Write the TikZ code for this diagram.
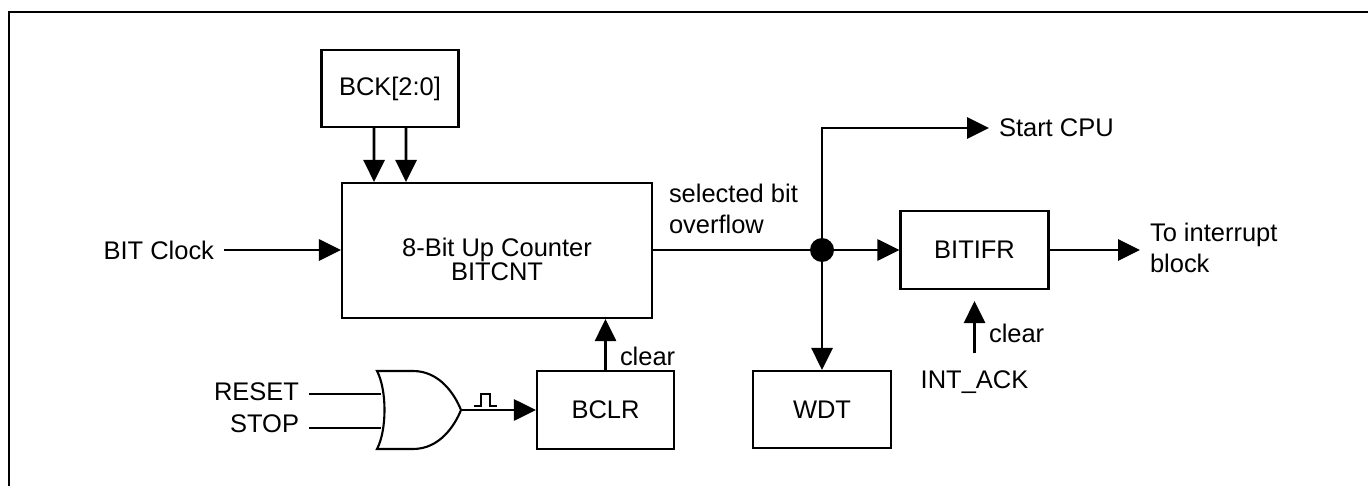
\documentclass[tikz,border=0pt]{standalone}
\usepackage{fontspec}
\setmainfont{Liberation Sans}
\usetikzlibrary{arrows.meta}

\begin{document}
\begin{tikzpicture}[x=0.02cm,y=-0.02cm,>={Triangle[length=0.44cm,width=0.42cm]},
  font=\fontsize{14.5}{18}\selectfont,
  blk/.style={draw,line width=1.2pt,inner sep=0pt},
  sig/.style={inner sep=0pt,outer sep=0pt},
  term/.style={inner sep=0pt,outer sep=0.2cm},
  wire/.style={line width=1.6pt}]
  \useasboundingbox (0,0) rectangle (1368,486);
  \draw[line width=1.2pt] (9,486) -- (9,12) -- (1368,12);

  \node[blk,minimum width=2.74cm,minimum height=1.54cm] (bck) at (390,88.5) {BCK[2:0]};
  \node[blk,minimum width=6.2cm,minimum height=2.7cm] (cnt) at (497,250.5) {};
  \node[sig,align=center,font=\fontsize{14.5}{13.6}\selectfont] (cnttxt) at (497,259.5) {8-Bit Up Counter\\BITCNT};
  \node[blk,minimum width=2.74cm,minimum height=1.56cm] (bclr) at (605.5,410) {BCLR};
  \node[blk,minimum width=2.76cm,minimum height=1.54cm] (wdt) at (822,409.5) {WDT};
  \node[blk,minimum width=2.96cm,minimum height=1.56cm] (bitifr) at (974.5,250) {BITIFR};
  \node[circle,fill,inner sep=0pt,minimum size=0.48cm] (dot) at (822,250) {};

  \node[term,anchor=east] (bitclk) at (224,250) {BIT Clock};
  \node[term,anchor=east] (reset) at (309,392) {RESET};
  \node[term,anchor=east] (stop) at (309,424) {STOP};
  \node[term,anchor=west] (cpu) at (989,128) {Start CPU};
  \node[term,anchor=west,align=left] (intr) at (1140,248) {To interrupt\\block};
  \node[term,outer sep=0.36cm] (intack) at (974.5,382.5) {INT\_ACK};
  \node[sig,anchor=south west,align=left] (ovf) at (669,234) {selected bit\\overflow};
  \node[sig,anchor=west] (clr1) at (620,356) {clear};
  \node[sig,anchor=west] (clr2) at (989,333) {clear};

  \coordinate (in1) at (381,394);
  \coordinate (in2) at (381,428);
  \coordinate (orout) at (461,410);
  \draw[line width=1.2pt] (377,371) -- (413,371) .. controls (440,371) and (455,395) .. (orout)
    .. controls (455,425) and (440,449) .. (413,449) -- (377,449)
    .. controls (387,430) and (387,390) .. (377,371) -- cycle;
  \draw[line width=1pt] (474,406) -- (481,406) -- (481,394) -- (490,394) -- (490,406) -- (497,406);

  \draw[wire,->] ([xshift=-0.32cm]bck.south) -- ([xshift=-2.46cm]cnt.north);
  \draw[wire,->] ([xshift=0.32cm]bck.south) -- ([xshift=-1.82cm]cnt.north);
  \draw[wire,->] (bitclk.east) -- (bitclk.east -| cnt.west);
  \draw[wire] (reset.east |- in1) -- (in1);
  \draw[wire] (stop.east |- in2) -- (in2);
  \draw[wire,->] (orout) -- (bclr.west);
  \draw[wire,->] (bclr.north) -- (bclr.north |- cnt.south);
  \draw[wire] (cnt.east |- dot) -- (dot);
  \draw[wire,->] (dot) |- (cpu.west);
  \draw[wire,->] (dot) -- (bitifr.west);
  \draw[wire,->] (dot) -- (wdt.north);
  \draw[wire,->] (bitifr.east) -- (bitifr.east -| intr.west);
  \draw[wire,->] (intack.north) -- ([yshift=-0.22cm]bitifr.south);
\end{tikzpicture}
\end{document}
